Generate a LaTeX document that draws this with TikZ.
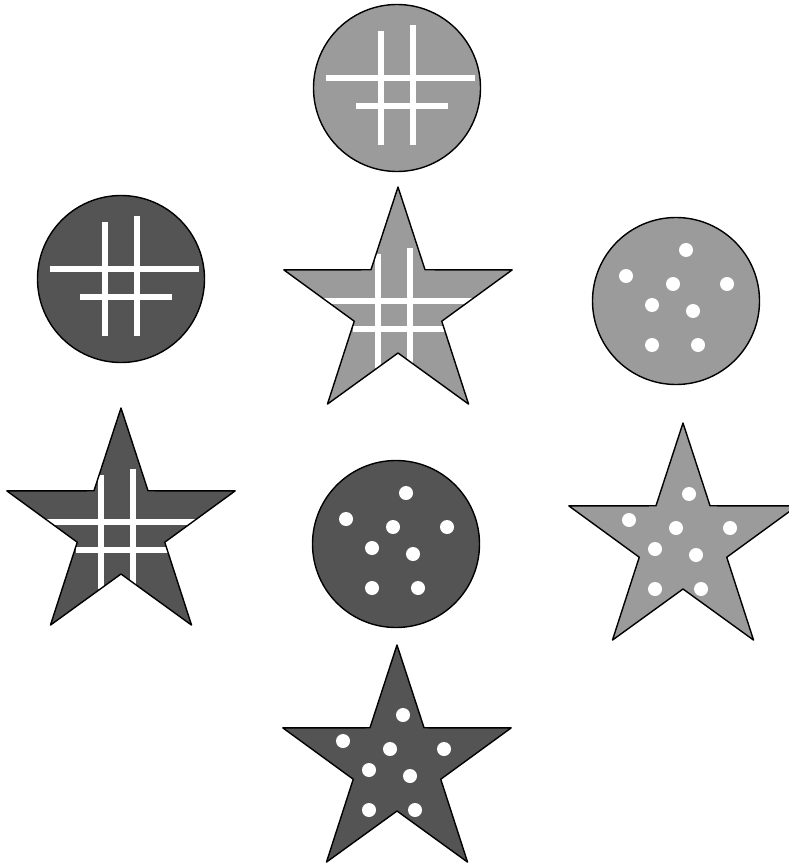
\documentclass[tikz,border=0pt]{standalone}
\usepackage{xcolor}
\usepackage{tikz}

\definecolor{lightgrey}{RGB}{155,155,155}
\definecolor{darkgrey}{RGB}{84,84,84}

\tikzset{
  outline/.style={draw=black, line width=1.4pt, line join=round},
  whiteline/.style={draw=white, line width=5.5pt},
}

% five pointed star round (0,0)
\newcommand{\starpath}{(-90:120) -- (-54:46) -- (-18:120) -- (18:46) -- (54:120) -- (90:46) -- (126:120) -- (162:46) -- (198:120) -- (234:46) -- cycle}

% hash of white lines, shifted by #1,#2
\newcommand{\hashlines}[2]{%
  \begin{scope}[shift={(#1,#2)}]
    \draw[whiteline] (-16,-57) -- (-16,57);
    \draw[whiteline] (16,-63) -- (16,57);
    \draw[whiteline] (-71,-10) -- (78,-10);
    \draw[whiteline] (-41,18) -- (51,18);
  \end{scope}}

% white dots, shifted by #1,#2
\newcommand{\dotmarks}[2]{%
  \begin{scope}[shift={(#1,#2)}]
    \foreach \dx/\dy in {10/-51, -50/-25, -3/-17, 51/-17, -24/4, 17/10, -24/44, 22/44}
      \fill[white] (\dx,\dy) circle (7);
  \end{scope}}

\begin{document}
\begin{tikzpicture}[x=1pt, y=-1pt]
    \useasboundingbox (0,0) rectangle (788,866);

    % Top circle (light, hash)
    \begin{scope}[shift={(397,88)}]
        \fill[lightgrey] (0,0) circle (83.5);
        \begin{scope} \clip (0,0) circle (83.5); \hashlines{0}{0} \end{scope}
        \draw[outline] (0,0) circle (83.5);
    \end{scope}

    % Left circle (dark, hash)
    \begin{scope}[shift={(121,279)}]
        \fill[darkgrey] (0,0) circle (83.5);
        \begin{scope} \clip (0,0) circle (83.5); \hashlines{0}{0} \end{scope}
        \draw[outline] (0,0) circle (83.5);
    \end{scope}

    % Middle star (light, hash)
    \begin{scope}[shift={(398,307)}]
        \fill[lightgrey] \starpath;
        \begin{scope} \clip \starpath; \hashlines{-4}{4} \end{scope}
        \draw[outline] \starpath;
    \end{scope}

    % Right circle (light, dots)
    \begin{scope}[shift={(676,301)}]
        \fill[lightgrey] (0,0) circle (83.5);
        \dotmarks{0}{0}
        \draw[outline] (0,0) circle (83.5);
    \end{scope}

    % Left star (dark, hash)
    \begin{scope}[shift={(121,528)}]
        \fill[darkgrey] \starpath;
        \begin{scope} \clip \starpath; \hashlines{-4}{4} \end{scope}
        \draw[outline] \starpath;
    \end{scope}

    % Middle circle (dark, dots)
    \begin{scope}[shift={(396,544)}]
        \fill[darkgrey] (0,0) circle (83.5);
        \dotmarks{0}{0}
        \draw[outline] (0,0) circle (83.5);
    \end{scope}

    % Right star (light, dots)
    \begin{scope}[shift={(683,543)}]
        \fill[lightgrey] \starpath;
        \dotmarks{-4}{2}
        \draw[outline] \starpath;
    \end{scope}

    % Bottom star (dark, dots)
    \begin{scope}[shift={(397,765)}]
        \fill[darkgrey] \starpath;
        \dotmarks{-4}{1}
        \draw[outline] \starpath;
    \end{scope}
\end{tikzpicture}
\end{document}
